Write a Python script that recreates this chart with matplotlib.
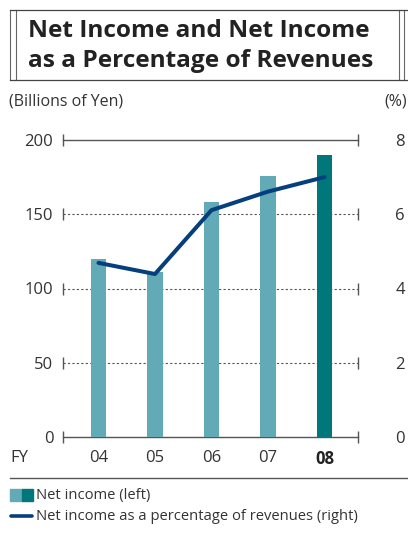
import matplotlib.pyplot as plt
from matplotlib.lines import Line2D
from matplotlib.patches import Rectangle

# data
years = ['04', '05', '06', '07', '08']
net_income = [120, 111, 158, 176, 190]          # billions of yen (left)
income_pct = [4.69, 4.39, 6.11, 6.61, 7.0]       # % of revenues (right)
left_ticks = [0, 50, 100, 150, 200]
right_ticks = [0, 2, 4, 6, 8]

LIGHT = '#62aab5'
DARK = '#00777b'
LINE = '#053f7e'
TXT = '#333333'
GRID = '#555555'

plt.rcParams['font.family'] = ['Open Sans', 'DejaVu Sans']

fig = plt.figure(figsize=(4.08, 5.35), dpi=100)
W, H = 408, 535


def fx(px):
    return px / W


def fy(py):
    return 1 - py / H


# title box with double rules on the sides
for x in (10, 16, 399, 404):
    fig.add_artist(Line2D([fx(x), fx(x)], [fy(10), fy(80)], color='#666666', lw=0.8))
for y in (10, 80):
    fig.add_artist(Line2D([fx(10), 1], [fy(y), fy(y)], color='#444444', lw=0.9))
fig.text(fx(28), fy(31), 'Net Income and Net Income', fontsize=17.6, fontweight='bold',
         color='#222222', va='center', ha='left')
fig.text(fx(28), fy(61), 'as a Percentage of Revenues', fontsize=17.6, fontweight='bold',
         color='#222222', va='center', ha='left')

fig.text(fx(9), fy(101), '(Billions of Yen)', fontsize=11.5, color=TXT, va='center')
fig.text(fx(384), fy(101), '(%)', fontsize=11.5, color=TXT, va='center')

ax = fig.add_axes([fx(63), fy(437), fx(358) - fx(63), fy(140) - fy(437)])
x = list(range(len(years)))
colors = [LIGHT] * (len(years) - 1) + [DARK]
ax.bar(x, net_income, width=0.27, color=colors, zorder=2)
xlim = (-0.628, 4.593)
ax.set_xlim(*xlim)
ax.set_ylim(0, 200)

for v in left_ticks:
    if v in (0, 200):
        ax.plot(xlim, [v, v], color=GRID, lw=1.0, zorder=1, clip_on=False)
    else:
        ax.plot(xlim, [v, v], color=GRID, lw=0.8, ls=(0, (2, 2)), zorder=1, clip_on=False)
    # end ticks
    ax.plot(xlim, [v, v], ls='none', marker='|', ms=8, mew=1.0, color=GRID,
            zorder=1, clip_on=False)

for s in ax.spines.values():
    s.set_visible(False)
ax.set_yticks(left_ticks)
ax.tick_params(axis='y', length=0, labelsize=12, labelcolor=TXT, pad=7)
ax.set_xticks(x)
ax.set_xticklabels(years)
ax.tick_params(axis='x', length=0, labelsize=12, labelcolor=TXT, pad=9)
ax.get_xticklabels()[-1].set_fontweight('bold')
ax.get_xticklabels()[-1].set_color('#222222')

ax2 = ax.twinx()
ax2.plot(x, income_pct, color=LINE, lw=2.9, solid_capstyle='round', zorder=3)
ax2.set_ylim(0, 8)
for s in ax2.spines.values():
    s.set_visible(False)
ax2.set_yticks(right_ticks)
ax2.tick_params(axis='y', length=0, labelsize=12, labelcolor=TXT, pad=27)

fig.text(fx(10), fy(458), 'FY', fontsize=12, color=TXT, va='center')

# separator and legend
fig.add_artist(Line2D([fx(10), 1], [fy(478), fy(478)], color='#555555', lw=1.0))
fig.add_artist(Rectangle((fx(10), fy(501)), fx(12), fy(489) - fy(501), color=LIGHT))
fig.add_artist(Rectangle((fx(22), fy(501)), fx(11), fy(489) - fy(501), color=DARK))
fig.text(fx(36), fy(495), 'Net income (left)', fontsize=10.6, color=TXT, va='center')
fig.add_artist(Line2D([fx(11), fx(32)], [fy(516), fy(516)], color=LINE, lw=2.6,
                      solid_capstyle='round'))
fig.text(fx(36), fy(516), 'Net income as a percentage of revenues (right)', fontsize=10.6,
         color=TXT, va='center')

fig.savefig('out.png', dpi=100)
